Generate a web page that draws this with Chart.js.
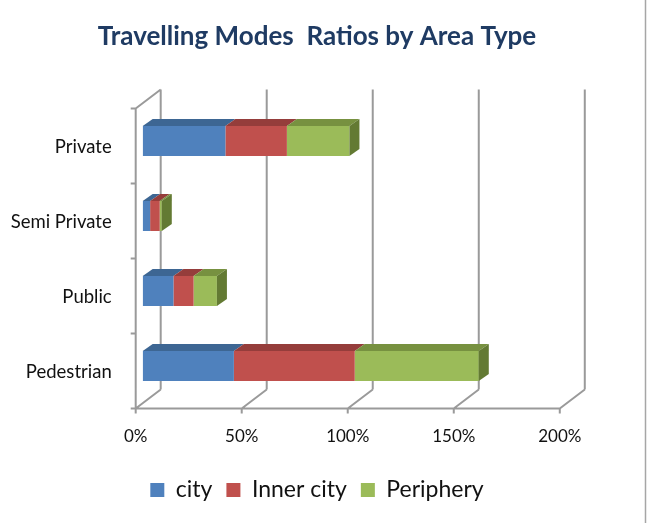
<!DOCTYPE html>
<html>
<head>
<meta charset="utf-8">
<script src="https://cdn.jsdelivr.net/npm/chart.js@4"></script>
<style>
	html, body { margin: 0; padding: 0; background: #fff; }
	canvas { display: block; }
</style>
</head>
<body>
<canvas id="modesChart" width="648" height="523"></canvas>
<script>
const categories = ['Private', 'Semi Private', 'Public', 'Pedestrian'];
const seriesNames = ['city', 'Inner city', 'Periphery'];
const cityValues = [39, 3.5, 14.5, 43];
const innerCityValues = [29, 4.5, 9.5, 57];
const peripheryValues = [29.5, 1, 11, 58.5];
const tickValues = [0, 50, 100, 150, 200];

const frontColors = ['#4F81BD', '#C0504D', '#9BBB59'];
const topColors = ['#3D6693', '#953D3B', '#779140'];
const sideColors = ['#355A83', '#7F3331', '#637A33'];

// depth of the fake 3d box, relative to the plane of the bar fronts
const DX = 10, DY = 7;         // bar depth
const FRONT = [-7, 5];         // floor front edge offset
const BACK = [18, -14];        // back wall offset
const FONT = 'Lato';

const box3d = {
	id: 'box3d',
	beforeDatasetsDraw(chart) {
		const {ctx, chartArea: a} = chart;
		const xs = chart.scales.x;
		const x0 = xs.getPixelForValue(0);
		const band = (a.bottom - a.top) / categories.length;
		ctx.save();
		ctx.strokeStyle = '#9a9a9a';
		ctx.lineWidth = 2;
		ctx.beginPath();
		tickValues.forEach(v => {
			const px = xs.getPixelForValue(v);
			// back wall gridline
			ctx.moveTo(px + BACK[0], a.top + BACK[1]);
			ctx.lineTo(px + BACK[0], a.bottom + BACK[1]);
			// floor diagonal
			ctx.moveTo(px + FRONT[0], a.bottom + FRONT[1]);
			ctx.lineTo(px + BACK[0], a.bottom + BACK[1]);
			// front tick mark
			ctx.moveTo(px + FRONT[0], a.bottom + FRONT[1]);
			ctx.lineTo(px + FRONT[0], a.bottom + FRONT[1] + 5);
		});
		// floor front edge
		ctx.moveTo(x0 + FRONT[0], a.bottom + FRONT[1]);
		ctx.lineTo(xs.getPixelForValue(200) + FRONT[0], a.bottom + FRONT[1]);
		// left wall
		ctx.moveTo(x0 + FRONT[0], a.top + FRONT[1]);
		ctx.lineTo(x0 + FRONT[0], a.bottom + FRONT[1]);
		ctx.moveTo(x0 + FRONT[0], a.top + FRONT[1]);
		ctx.lineTo(x0 + BACK[0], a.top + BACK[1]);
		for (let i = 0; i <= categories.length; i++) {
			const y = a.top + FRONT[1] + i * band;
			ctx.moveTo(x0 + FRONT[0], y);
			ctx.lineTo(x0 + FRONT[0] - 5, y);
		}
		ctx.stroke();
		ctx.restore();
	},
	afterDatasetsDraw(chart) {
		const {ctx} = chart;
		ctx.save();
		chart.data.datasets.forEach((ds, di) => {
			const meta = chart.getDatasetMeta(di);
			meta.data.forEach((bar, i) => {
				const p = bar.getProps(['x', 'y', 'base', 'height'], true);
				const l = Math.min(p.x, p.base), r = Math.max(p.x, p.base);
				const t = p.y - p.height / 2, b = p.y + p.height / 2;
				ctx.fillStyle = topColors[di];
				ctx.beginPath();
				ctx.moveTo(l, t);
				ctx.lineTo(l + DX, t - DY);
				ctx.lineTo(r + DX, t - DY);
				ctx.lineTo(r, t);
				ctx.closePath();
				ctx.fill();
				if (di === chart.data.datasets.length - 1) {
					ctx.fillStyle = sideColors[di];
					ctx.beginPath();
					ctx.moveTo(r, t);
					ctx.lineTo(r + DX, t - DY);
					ctx.lineTo(r + DX, b - DY);
					ctx.lineTo(r, b);
					ctx.closePath();
					ctx.fill();
				}
			});
		});
		ctx.restore();
	},
	afterDraw(chart) {
		const {ctx} = chart;
		ctx.save();
		ctx.strokeStyle = '#a6a6a6';
		ctx.lineWidth = 1.5;
		ctx.beginPath();
		ctx.moveTo(645.5, 0);
		ctx.lineTo(645.5, 523);
		ctx.stroke();
		ctx.restore();
	}
};

const data = {
	labels: categories,
	datasets: [
		{ label: seriesNames[0], data: cityValues, backgroundColor: frontColors[0] },
		{ label: seriesNames[1], data: innerCityValues, backgroundColor: frontColors[1] },
		{ label: seriesNames[2], data: peripheryValues, backgroundColor: frontColors[2] },
	]
};

const config = {
	type: 'bar',
	data: data,
	plugins: [box3d],
	options: {
		indexAxis: 'y',
		responsive: false,
		animation: false,
		layout: { padding: { left: 0, right: 14, top: 0, bottom: 11.5 } },
		datasets: {
			bar: { categoryPercentage: 1, barPercentage: 0.4, borderWidth: 0 }
		},
		scales: {
			x: {
				stacked: true,
				min: 0,
				max: 231.7,
				border: { display: false },
				grid: { display: false, drawTicks: false },
				afterBuildTicks: s => { s.ticks = tickValues.map(v => ({ value: v })); },
				afterFit: s => { s.height = 61; },
				ticks: {
					padding: 23,
					labelOffset: -7,
					color: '#111',
					font: { family: FONT, size: 17 },
					callback: v => v + '%'
				}
			},
			y: {
				stacked: true,
				border: { display: false },
				grid: { display: false, drawTicks: false },
				afterFit: s => { s.width = 142.7; },
				ticks: {
					padding: 31,
					labelOffset: 6,
					color: '#111',
					font: { family: FONT, size: 18.5 }
				}
			}
		},
		plugins: {
			title: {
				display: true,
				text: 'Travelling Modes  Ratios by Area Type',
				color: '#1F3B63',
				font: { family: FONT, size: 26, weight: 'bold', lineHeight: 1.2 },
				padding: { top: 21.4, bottom: 50.9 }
			},
			legend: {
				position: 'bottom',
				labels: {
					boxWidth: 14,
					boxHeight: 14,
					padding: 14,
					color: '#111',
					font: { family: FONT, size: 23 }
				}
			},
			tooltip: { enabled: false }
		}
	}
};

const modesChart = new Chart(document.getElementById('modesChart'), config);
</script>
</body>
</html>
